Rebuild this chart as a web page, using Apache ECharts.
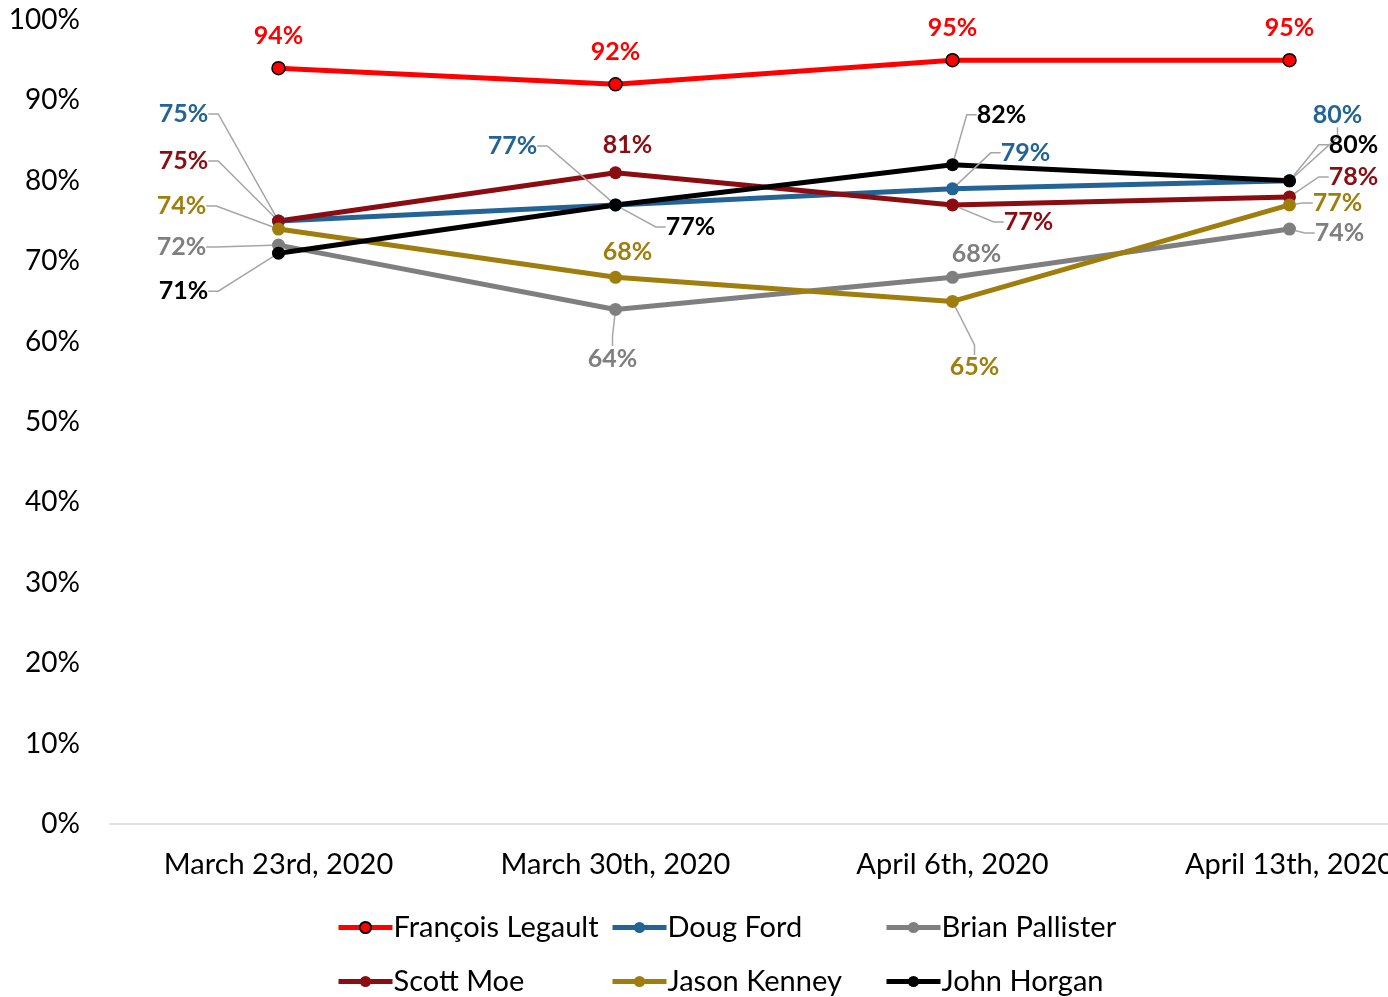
<!DOCTYPE html>
<html><head><meta charset="utf-8">
<script src="https://cdn.jsdelivr.net/npm/echarts@6/dist/echarts.min.js"></script>
<style>html,body{margin:0;padding:0;background:#fff}#c{width:1388px;height:997px}</style>
</head><body><div id="c"></div>
<script>
const categories = ['March 23rd, 2020','March 30th, 2020','April 6th, 2020','April 13th, 2020'];
const seriesNames = ['François Legault','Doug Ford','Brian Pallister','Scott Moe','Jason Kenney','John Horgan'];
const legault   = [94, 92, 95, 95];
const ford      = [75, 77, 79, 80];
const pallister = [72, 64, 68, 74];
const moe       = [75, 81, 77, 78];
const kenney    = [74, 68, 65, 77];
const horgan    = [71, 77, 82, 80];
const yTicks = [0,10,20,30,40,50,60,70,80,90,100];

const colors = ['#FF0000','#236395','#7F7F7F','#8B0D12','#A07E0E','#000000'];
const values = [legault, ford, pallister, moe, kenney, horgan];

// label offsets (px) from point to label centre, per series/per category
const labelOffsets = [
  null,
  [[-95,-107],[-103,-59],[73,-36],[48,-66]],
  [[-97,2],[-3,49],[24,-23],[50,4]],
  [[-95,-60],[12,-28],[76,17],[64,-20]],
  [[-97,-23],[12,-25],[22,66],[48,-2]],
  [[-95,38],[75,22],[49,-50],[64,-36]]
];
const noLeader = {'3-1':true,'4-1':true,'2-2':true};

const FONT = 'Lato, Carlito, "Open Sans", sans-serif';

const series = values.map((vals, si) => {
  const isLeg = si === 0;
  return {
    name: seriesNames[si],
    type: 'line',
    data: vals.map((v, di) => ({
      value: v,
      labelLine: {show: !isLeg && !noLeader[si + '-' + di]}
    })),
    symbol: 'circle',
    symbolSize: 13,
    lineStyle: {color: colors[si], width: 5},
    itemStyle: isLeg ? {color: colors[si], borderColor: '#000', borderWidth: 1.5}
                     : {color: colors[si], borderWidth: 0},
    label: {
      show: true,
      position: isLeg ? 'top' : 'inside',
      distance: 13,
      formatter: '{c}%',
      color: colors[si],
      fontFamily: FONT,
      fontWeight: 'bold',
      fontSize: 25
    },
    labelLine: {
      show: !isLeg,
      length2: 10,
      lineStyle: {color: '#A6A6A6', width: 1.5}
    },
    labelLayout: isLeg ? null : function (p) {
      const o = labelOffsets[si][p.dataIndex];
      return {dx: o[0], dy: o[1]};
    },
    emphasis: {disabled: true},
    animation: false
  };
});

const legendBase = {
  orient: 'vertical',
  itemWidth: 54,
  itemHeight: 14,
  itemGap: 25,
  top: 913,
  height: 84,
  padding: 0,
  lineStyle: {width: 5},
  textStyle: {fontFamily: FONT, fontSize: 29, color: '#000', lineHeight: 29, padding: [0,0,0,-4]},
  selectedMode: false
};

const chart = echarts.init(document.getElementById('c'), null, {renderer: 'canvas'});
chart.setOption({
  backgroundColor: '#fff',
  animation: false,
  grid: {left: 110, top: 20, right: -70, height: 804, containLabel: false, outerBoundsMode: 'none'},
  xAxis: {
    type: 'category',
    data: categories,
    axisLine: {lineStyle: {color: '#D9D9D9', width: 1.5}},
    axisTick: {show: false},
    axisLabel: {color: '#000', fontFamily: FONT, fontSize: 29, margin: 26, interval: 0}
  },
  yAxis: {
    type: 'value',
    min: yTicks[0], max: yTicks[yTicks.length-1], interval: 10,
    axisLine: {show: false},
    axisTick: {show: false},
    splitLine: {show: false},
    axisLabel: {color: '#000', fontFamily: FONT, fontSize: 28, margin: 30, formatter: '{value}%'}
  },
  legend: [
    Object.assign({}, legendBase, {left: 336, data: [seriesNames[0], seriesNames[3]]}),
    Object.assign({}, legendBase, {left: 610, data: [seriesNames[1], seriesNames[4]]}),
    Object.assign({}, legendBase, {left: 884, data: [seriesNames[2], seriesNames[5]]})
  ],
  series: series
});
</script>
</body></html>
